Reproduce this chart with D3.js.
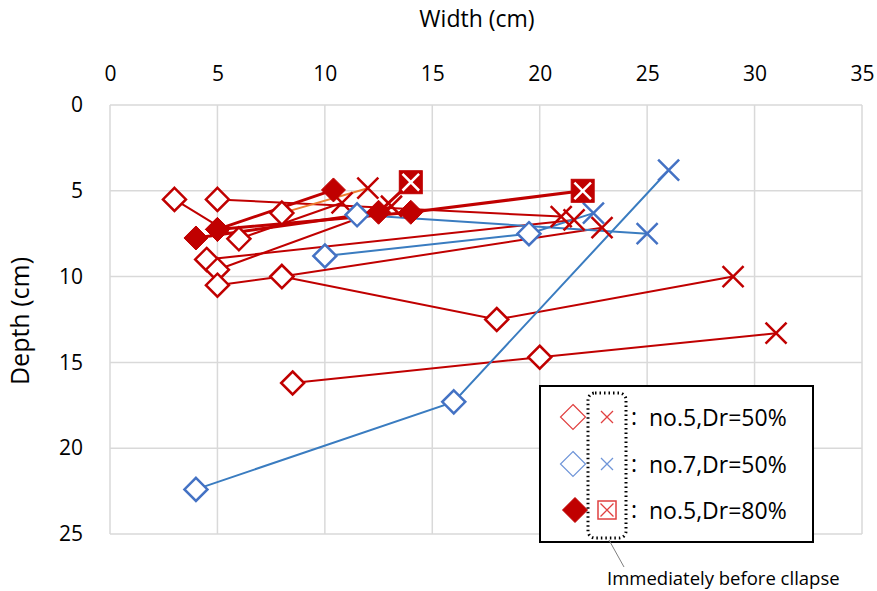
<!DOCTYPE html>
<html><head><meta charset="utf-8">
<script src="https://cdn.jsdelivr.net/npm/d3@7"></script>
<style>
body{margin:0;background:#fff}
svg text{font-family:"Open Sans","Noto Sans",sans-serif;fill:#000}
</style></head>
<body><svg id="chart" width="877" height="591"></svg>
<script>
// ---- data (Width cm, Depth cm); last point of each test = immediately before collapse ----
const xTicks = [0, 5, 10, 15, 20, 25, 30, 35];
const yTicks = [0, 5, 10, 15, 20, 25];
const no5Dr50 = [
  [[5, 5.5], [21, 6.5]],
  [[3, 5.5], [6, 7.8], [10.8, 5.7]],
  [[4.5, 9.0], [21.6, 6.7]],
  [[5, 9.6], [13.1, 5.9]],
  [[5, 10.5], [8, 10], [22.9, 7.15]],
  [[8, 10], [18, 12.5], [29, 10]],
  [[8.5, 16.2], [20, 14.7], [31, 13.3]]
];
const no5Dr50Orange = [
  [[8, 6.3], [12, 4.85]]
];
const no7Dr50 = [
  [[4, 22.4], [16, 17.3], [26, 3.8]],
  [[10, 8.8], [19.5, 7.5], [22.5, 6.3]],
  [[11.5, 6.4], [25, 7.5]]
];
const no5Dr80 = [
  [[4, 7.75], [12.5, 6.25], [14, 4.5]],
  [[5, 7.25], [10.4, 4.95]],
  [[5, 7.25], [14, 6.25], [22, 5.0]]
];
const no5Dr80Collapsed = [true, false, true];
const legendLabels = ["no.5,Dr=50%", "no.7,Dr=50%", "no.5,Dr=80%"];

const RED = "#C00000", BLUE = "#4472C4", BLUELINE = "#3A7CC0", ORANGE = "#ED7D31", GRID = "#D9D9D9";

const svg = d3.select("#chart");
const x = d3.scaleLinear().domain([0, 35]).range([110, 862]);
const y = d3.scaleLinear().domain([0, 25]).range([105, 534]);

// gridlines
const g = svg.append("g");
g.selectAll(".vg").data(xTicks).join("line")
  .attr("x1", d => x(d)).attr("x2", d => x(d)).attr("y1", y(0)).attr("y2", y(25))
  .attr("stroke", GRID).attr("stroke-width", 1.5);
g.selectAll(".hg").data(yTicks).join("line")
  .attr("y1", d => y(d)).attr("y2", d => y(d)).attr("x1", x(0)).attr("x2", x(35))
  .attr("stroke", GRID).attr("stroke-width", 1.5);

// axes (labels only)
const xAxis = d3.axisTop(x).tickValues(xTicks).tickSize(0).tickPadding(0);
const xa = svg.append("g").attr("transform", "translate(0,81)").call(xAxis);
xa.select(".domain").remove();
xa.selectAll("text").attr("font-size", 21).attr("font-family", '"Open Sans",sans-serif').attr("fill", "#000");
const yAxis = d3.axisLeft(y).tickValues(yTicks).tickSize(0).tickPadding(0);
const ya = svg.append("g").attr("transform", "translate(83,0)").call(yAxis);
ya.select(".domain").remove();
ya.selectAll("text").attr("font-size", 21).attr("font-family", '"Open Sans",sans-serif').attr("fill", "#000");

svg.append("text").attr("x", 477).attr("y", 27).attr("text-anchor", "middle")
  .attr("font-size", 23).text("Width (cm)");
svg.append("text").attr("transform", "translate(29,321) rotate(-90)").attr("text-anchor", "middle")
  .attr("font-size", 25).text("Depth (cm)");

const line = d3.line().x(d => x(d[0])).y(d => y(d[1]));

const diamondPath = (r) => `M0,${-r}L${r},0L0,${r}L${-r},0Z`;
function drawDiamond(sel, cx, cy, r, stroke, fill, sw) {
  sel.append("path").attr("d", diamondPath(r)).attr("transform", `translate(${cx},${cy})`)
    .attr("fill", fill).attr("stroke", stroke).attr("stroke-width", sw);
}
function drawX(sel, cx, cy, r, stroke, sw) {
  sel.append("path").attr("d", `M${-r},${-r}L${r},${r}M${-r},${r}L${r},${-r}`)
    .attr("transform", `translate(${cx},${cy})`).attr("fill", "none")
    .attr("stroke", stroke).attr("stroke-width", sw);
}
function drawBoxX(sel, cx, cy, r, fill, stroke, xc, sw, xsw) {
  sel.append("rect").attr("x", cx - r).attr("y", cy - r).attr("width", 2 * r).attr("height", 2 * r)
    .attr("fill", fill).attr("stroke", stroke).attr("stroke-width", sw);
  const k = r * 0.72;
  drawX(sel, cx, cy, k, xc, xsw);
}

const plot = svg.append("g");
function lines(data, color, w) {
  plot.selectAll(null).data(data).join("path")
    .attr("d", line).attr("fill", "none").attr("stroke", color).attr("stroke-width", w);
}
lines(no5Dr50, RED, 2);
lines(no5Dr50Orange, ORANGE, 2);
lines(no7Dr50, BLUELINE, 2);
lines(no5Dr80, RED, 3);

function openSeries(data, color) {
  data.forEach(s => {
    s.slice(0, -1).forEach(p => drawDiamond(plot, x(p[0]), y(p[1]), 11.5, color, "#fff", 2.5));
    const e = s[s.length - 1];
    drawX(plot, x(e[0]), y(e[1]), 10.5, color, 2.5);
  });
}
openSeries(no5Dr50, RED);
openSeries(no5Dr50Orange, RED);
openSeries(no7Dr50, BLUE);
no5Dr80.forEach((s, i) => {
  const pts = no5Dr80Collapsed[i] ? s.slice(0, -1) : s;
  pts.forEach(p => drawDiamond(plot, x(p[0]), y(p[1]), 12, RED, RED, 1));
  if (no5Dr80Collapsed[i]) {
    const e = s[s.length - 1];
    drawBoxX(plot, x(e[0]), y(e[1]), 11.5, RED, RED, "#fff", 1, 2.5);
  }
});

// legend
const lg = svg.append("g");
lg.append("rect").attr("x", 540).attr("y", 386).attr("width", 273).attr("height", 156)
  .attr("fill", "#fff").attr("stroke", "#000").attr("stroke-width", 2);
const rows = [417, 464, 510];
drawDiamond(lg, 573, rows[0], 12.5, "#E04040", "#fff", 1.2);
drawX(lg, 607, rows[0], 6, "#E04040", 1.3);
drawDiamond(lg, 573, rows[1], 12.5, "#6F95D8", "#fff", 1.2);
drawX(lg, 607, rows[1], 6, "#6F95D8", 1.3);
drawDiamond(lg, 575, rows[2], 12.5, RED, RED, 1);
drawBoxX(lg, 607, rows[2], 9, "#fff", "#E04040", "#E04040", 1.5, 1.3);
legendLabels.forEach((t, i) => {
  lg.append("text").attr("x", 631).attr("y", rows[i] + 8).attr("font-size", 23).text(":");
  lg.append("text").attr("x", 649).attr("y", rows[i] + 9).attr("font-size", 23).text(t);
});
lg.append("rect").attr("x", 588).attr("y", 393).attr("width", 38).attr("height", 145)
  .attr("rx", 7).attr("fill", "none").attr("stroke", "#000").attr("stroke-width", 3)
  .attr("stroke-dasharray", "1.5,3");
lg.append("line").attr("x1", 609).attr("y1", 540).attr("x2", 624).attr("y2", 567)
  .attr("stroke", "#7F7F7F").attr("stroke-width", 1);
svg.append("text").attr("x", 607).attr("y", 585).attr("font-size", 18.5).text("Immediately before cllapse");
</script></body></html>
